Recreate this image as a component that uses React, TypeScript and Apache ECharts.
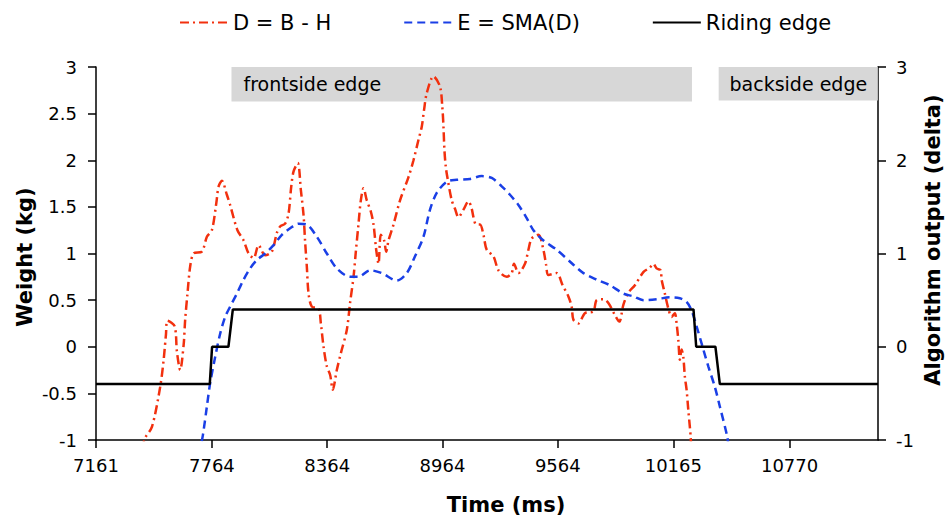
import React, { useEffect, useRef } from "react";
import * as echarts from "echarts";

const xTickValues = [7161, 7764, 8364, 8964, 9564, 10165, 10770];
const xMin = 7161;
const xMax = 11230;

// D = B - H (red, dash-dot)
const dTime = [7381, 7414, 7452, 7495, 7513, 7525, 7533, 7570, 7582, 7599, 7617, 7625, 7637, 7651, 7669, 7712, 7738, 7764, 7787, 7799, 7816, 7842, 7859, 7897, 7929, 7955, 7981, 8007, 8041, 8076, 8102, 8119, 8145, 8163, 8177, 8189, 8211, 8227, 8241, 8249, 8258, 8267, 8284, 8319, 8331, 8345, 8362, 8379, 8393, 8414, 8435, 8466, 8483, 8501, 8513, 8527, 8539, 8553, 8570, 8591, 8605, 8619, 8631, 8643, 8660, 8671, 8683, 8709, 8743, 8787, 8813, 8839, 8856, 8868, 8882, 8917, 8951, 8963, 8969, 8974, 8981, 8989, 9012, 9029, 9047, 9073, 9099, 9116, 9125, 9139, 9159, 9177, 9194, 9229, 9255, 9298, 9324, 9336, 9359, 9393, 9411, 9428, 9463, 9489, 9503, 9515, 9558, 9589, 9619, 9636, 9645, 9671, 9705, 9749, 9766, 9801, 9827, 9861, 9884, 9905, 9931, 9965, 10009, 10043, 10061, 10078, 10099, 10104, 10121, 10139, 10156, 10173, 10182, 10191, 10199, 10208, 10217, 10225, 10234, 10243, 10251, 10255, 10262];
const dValue = [-1.3, -0.99, -0.86, -0.43, -0.14, 0.13, 0.28, 0.22, -0.05, -0.25, 0.02, 0.29, 0.57, 0.86, 1.0, 1.02, 1.18, 1.25, 1.54, 1.72, 1.78, 1.63, 1.52, 1.25, 1.14, 1.0, 0.95, 1.09, 0.98, 1.02, 1.22, 1.29, 1.32, 1.43, 1.72, 1.88, 1.97, 1.68, 1.41, 1.13, 0.86, 0.57, 0.43, 0.41, 0.25, 0.0, -0.21, -0.3, -0.46, -0.25, -0.07, 0.18, 0.47, 0.75, 1.02, 1.32, 1.57, 1.7, 1.57, 1.45, 1.31, 1.04, 0.89, 1.2, 1.14, 1.02, 1.14, 1.31, 1.57, 1.82, 2.0, 2.22, 2.36, 2.54, 2.72, 2.9, 2.79, 2.57, 2.36, 2.11, 1.93, 1.82, 1.57, 1.48, 1.39, 1.47, 1.56, 1.48, 1.39, 1.31, 1.31, 1.2, 1.04, 0.97, 0.82, 0.75, 0.79, 0.89, 0.79, 0.89, 1.04, 1.16, 1.2, 1.04, 0.88, 0.77, 0.79, 0.66, 0.54, 0.43, 0.29, 0.25, 0.36, 0.38, 0.5, 0.51, 0.47, 0.34, 0.27, 0.45, 0.58, 0.66, 0.8, 0.85, 0.89, 0.84, 0.82, 0.72, 0.57, 0.41, 0.32, 0.36, 0.25, 0.07, -0.14, -0.03, -0.11, -0.32, -0.46, -0.68, -0.86, -0.96, -1.2];

// E = SMA(D) (blue, dashed)
const eTime = [7698, 7717, 7738, 7755, 7781, 7807, 7833, 7859, 7894, 7929, 7963, 7998, 8041, 8085, 8128, 8171, 8215, 8258, 8310, 8362, 8414, 8483, 8527, 8587, 8648, 8726, 8778, 8821, 8865, 8899, 8934, 8986, 9038, 9107, 9168, 9220, 9272, 9315, 9359, 9402, 9437, 9489, 9558, 9645, 9697, 9766, 9835, 9905, 9957, 10009, 10078, 10147, 10199, 10234, 10260, 10286, 10317, 10347, 10381, 10407, 10445, 10454];
const eValue = [-1.15, -0.95, -0.64, -0.39, -0.11, 0.14, 0.32, 0.43, 0.57, 0.72, 0.84, 0.93, 1.0, 1.09, 1.2, 1.27, 1.32, 1.31, 1.18, 1.0, 0.84, 0.75, 0.75, 0.82, 0.79, 0.71, 0.79, 0.97, 1.18, 1.47, 1.65, 1.77, 1.79, 1.8, 1.83, 1.81, 1.72, 1.63, 1.52, 1.38, 1.25, 1.14, 1.04, 0.88, 0.79, 0.72, 0.66, 0.57, 0.54, 0.5, 0.51, 0.53, 0.52, 0.48, 0.39, 0.22, 0.0, -0.21, -0.43, -0.64, -0.96, -1.1];

// Riding edge (black, solid, right axis)
const rTime = [7161, 7753, 7765, 7850, 7873, 10270, 10284, 10384, 10407, 11230];
const rValue = [-0.4, -0.4, 0, 0, 0.4, 0.4, 0, 0, -0.4, -0.4];

// Annotation bands
const bandNames = ["frontside edge", "backside edge"];
const bandStart = [7866, 10401];
const bandEnd = [10262, 11230];
const bandTop = [3, 3];
const bandBottom = [2.63, 2.64];

const FONT = "DejaVu Sans";

export default function App() {
  const ref = useRef<HTMLDivElement>(null);
  useEffect(() => {
    if (!ref.current) return;
    const chart = echarts.init(ref.current, null, { renderer: "svg" });
    const zip = (a: number[], b: number[]) => a.map((v, i) => [v, b[i]]);
    const titleStyle = { fontFamily: FONT, fontSize: 21, fontWeight: "bold", fill: "#000" };
    const option = {
      animation: false,
      backgroundColor: "#ffffff",
      textStyle: { fontFamily: FONT },
      grid: { left: 96, right: 68, top: 67, bottom: 80, containLabel: false },
      legend: {
        left: 174,
        top: 7,
        itemWidth: 48,
        itemHeight: 14,
        itemGap: 72,
        itemStyle: { opacity: 0 },
        data: ["D = B - H", "E = SMA(D)", "Riding edge"],
        textStyle: { fontFamily: FONT, fontSize: 21, color: "#000" },
      },
      graphic: [
        { type: "text", x: 506, y: 505, style: { ...titleStyle, text: "Time (ms)", align: "center", verticalAlign: "middle" } },
        { type: "text", x: 25, y: 257, rotation: Math.PI / 2, style: { ...titleStyle, text: "Weight (kg)", align: "center", verticalAlign: "middle" } },
        { type: "text", x: 933, y: 240, rotation: Math.PI / 2, style: { ...titleStyle, text: "Algorithm output (delta)", align: "center", verticalAlign: "middle" } },
      ],
      xAxis: {
        type: "value",
        min: xMin,
        max: xMax,
        axisLine: { onZero: false, lineStyle: { color: "#000", width: 1.5 } },
        axisTick: { show: true, length: 8, customValues: xTickValues, lineStyle: { color: "#000", width: 1.5 } },
        axisLabel: { customValues: xTickValues, margin: 16, fontFamily: FONT, fontSize: 18, color: "#000", formatter: (v: number) => String(v) },
        splitLine: { show: false },
      },
      yAxis: [
        {
          type: "value",
          min: -1,
          max: 3,
          interval: 0.5,
          axisLine: { show: true, onZero: false, lineStyle: { color: "#000", width: 1.5 } },
          axisTick: { show: true, length: 8, lineStyle: { color: "#000", width: 1.5 } },
          axisLabel: { margin: 19, fontFamily: FONT, fontSize: 18, color: "#000" },
          splitLine: { show: false },
        },
        {
          type: "value",
          min: -1,
          max: 3,
          interval: 1,
          position: "right",
          axisLine: { show: true, onZero: false, lineStyle: { color: "#000", width: 1.5 } },
          axisTick: { show: true, length: 8, lineStyle: { color: "#000", width: 1.5 } },
          axisLabel: { margin: 18, fontFamily: FONT, fontSize: 18, color: "#000" },
          splitLine: { show: false },
        },
      ],
      series: [
        {
          name: "D = B - H",
          type: "line",
          data: zip(dTime, dValue),
          symbol: "none",
          smooth: 0.3,
          clip: true,
          color: "#f2300e",
          lineStyle: { color: "#f2300e", width: 2.5, type: [9, 4, 2, 4] },
          z: 2,
        },
        {
          name: "E = SMA(D)",
          type: "line",
          data: zip(eTime, eValue),
          symbol: "none",
          smooth: 0.3,
          clip: true,
          color: "#1a3fe6",
          lineStyle: { color: "#1a3fe6", width: 2.5, type: [8, 5] },
          z: 3,
        },
        {
          name: "Riding edge",
          type: "line",
          yAxisIndex: 1,
          data: zip(rTime, rValue),
          symbol: "none",
          clip: true,
          color: "#000",
          lineStyle: { color: "#000", width: 2.5 },
          z: 4,
        },
        {
          name: "bands",
          type: "line",
          data: [],
          symbol: "none",
          z: 10,
          markArea: {
            silent: true,
            itemStyle: { color: "rgba(208,208,208,0.85)" },
            data: bandNames.map((n, i) => [
              {
                name: n,
                xAxis: bandStart[i],
                yAxis: bandTop[i],
                label: {
                  show: true,
                  position: i === 0 ? "insideLeft" : "inside",
                  distance: 12,
                  color: "#000",
                  fontFamily: FONT,
                  fontSize: 19,
                },
              },
              { xAxis: bandEnd[i], yAxis: bandBottom[i] },
            ]),
          },
        },
      ],
    };
    chart.setOption(option as any);
    return () => chart.dispose();
  }, []);
  return <div ref={ref} style={{ position: "absolute", left: 0, top: 0, width: 946, height: 520 }} />;
}
